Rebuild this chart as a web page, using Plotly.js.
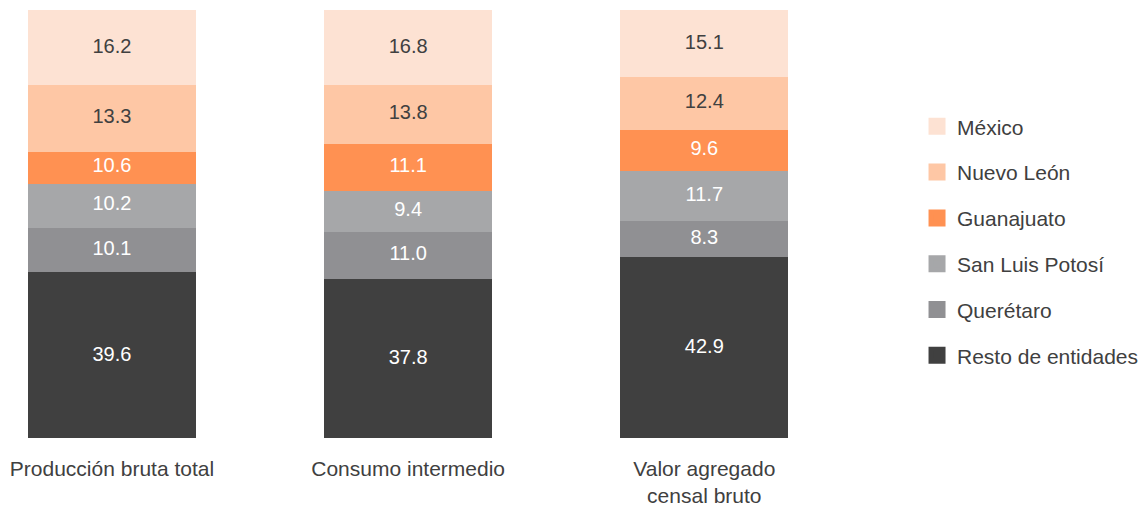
<!DOCTYPE html>
<html>
<head>
<meta charset="utf-8">
<script src="https://cdn.plot.ly/plotly-3.0.1.min.js"></script>
<style>
  html, body { margin: 0; padding: 0; background: #ffffff; }
  #chart { width: 1142px; height: 508px; }
</style>
</head>
<body>
<div id="chart"></div>
<script>
const categories = ["Producción bruta total", "Consumo intermedio", "Valor agregado<br>censal bruto"];

// printed percentages
const restoLabels = [39.6, 37.8, 42.9];
const queretaroLabels = [10.1, 11.0, 8.3];
const sanLuisPotosiLabels = [10.2, 9.4, 11.7];
const guanajuatoLabels = [10.6, 11.1, 9.6];
const nuevoLeonLabels = [13.3, 13.8, 12.4];
const mexicoLabels = [16.2, 16.8, 15.1];

// segment heights as drawn (first bar is drawn off its printed numbers)
const resto = [39.4, 37.8, 42.9];
const queretaro = [10.2, 11.0, 8.3];
const sanLuisPotosi = [10.4, 9.4, 11.7];
const guanajuato = [7.4, 11.1, 9.6];
const nuevoLeon = [15.7, 13.8, 12.4];
const mexico = [16.9, 16.8, 15.1];

const fontFamily = "Liberation Sans, Arial, sans-serif";
const darkText = "#404040";

// bottom-to-top stacking order; rank puts México first in the legend
const series = [
  { name: "Resto de entidades", values: resto, labels: restoLabels, color: "#404040", text: "#ffffff", rank: 6 },
  { name: "Querétaro", values: queretaro, labels: queretaroLabels, color: "#909093", text: "#ffffff", rank: 5 },
  { name: "San Luis Potosí", values: sanLuisPotosi, labels: sanLuisPotosiLabels, color: "#a6a7a9", text: "#ffffff", rank: 4 },
  { name: "Guanajuato", values: guanajuato, labels: guanajuatoLabels, color: "#ff9152", text: "#ffffff", rank: 3 },
  { name: "Nuevo León", values: nuevoLeon, labels: nuevoLeonLabels, color: "#fec7a5", text: darkText, rank: 2 },
  { name: "México", values: mexico, labels: mexicoLabels, color: "#fde2d3", text: darkText, rank: 1 }
];

const traces = series.map((s) => ({
  type: "bar",
  name: s.name,
  legendgroup: s.name,
  legendrank: s.rank,
  x: [0, 1, 2],
  y: s.values,
  width: 0.551,
  text: s.labels.map((v) => v.toFixed(1)),
  textposition: "inside",
  insidetextanchor: "middle",
  textangle: 0,
  constraintext: "none",
  textfont: { family: fontFamily, size: 20, color: s.text },
  marker: { color: s.color, line: { color: s.color, width: 5 } },
  hoverinfo: "skip"
}));

const layout = {
  width: 1142,
  height: 508,
  barmode: "stack",
  margin: { t: 10, r: 228, b: 70, l: 0, autoexpand: false },
  paper_bgcolor: "#ffffff",
  plot_bgcolor: "#ffffff",
  font: { family: fontFamily, size: 21, color: darkText },
  xaxis: {
    range: [-0.378, 2.708],
    tickvals: [0, 1, 2],
    ticktext: categories,
    showgrid: false,
    zeroline: false,
    showline: false,
    ticks: "",
    ticklabelstandoff: 16,
    tickfont: { family: fontFamily, size: 21, color: darkText }
  },
  yaxis: {
    range: [0, 100],
    visible: false,
    showgrid: false,
    zeroline: false
  },
  showlegend: true,
  legend: {
    xref: "container",
    yref: "container",
    x: 0.803,
    y: 0.791,
    xanchor: "left",
    yanchor: "top",
    traceorder: "grouped",
    tracegroupgap: 15.5,
    maxheight: 460,
    font: { family: fontFamily, size: 21, color: darkText },
    bgcolor: "rgba(0,0,0,0)"
  }
};

Plotly.newPlot("chart", traces, layout, { displayModeBar: false, staticPlot: true });
</script>
</body>
</html>
